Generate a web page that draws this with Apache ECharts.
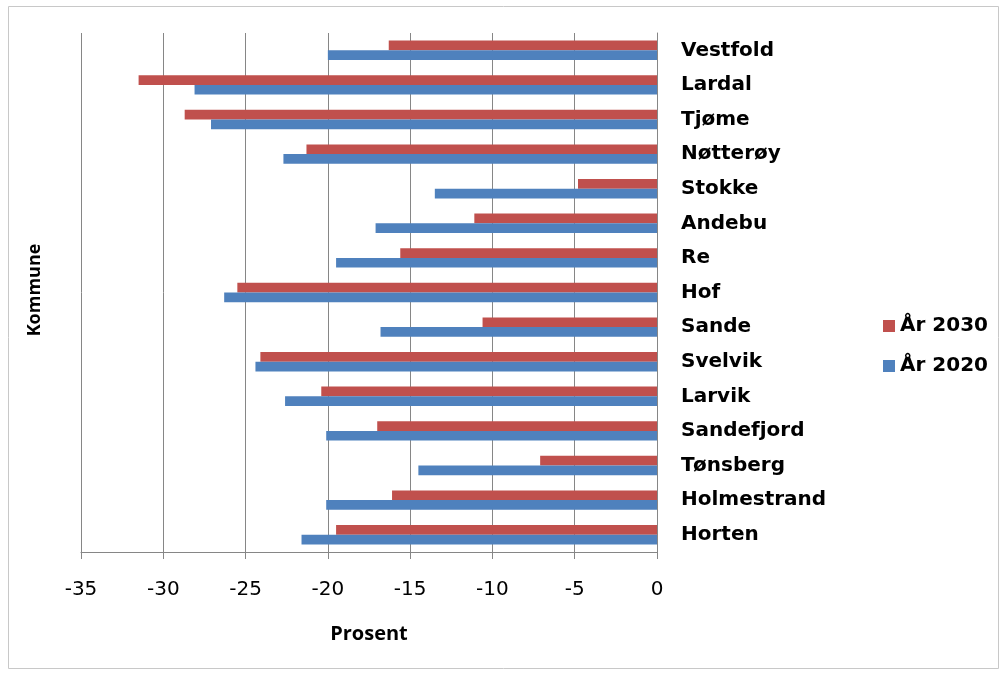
<!DOCTYPE html>
<html>
<head>
<meta charset="utf-8">
<script src="https://cdn.jsdelivr.net/npm/echarts@6/dist/echarts.min.js"></script>
<style>
  html, body { margin: 0; padding: 0; background: #fff; }
  #chart { width: 1005px; height: 675px; }
</style>
</head>
<body>
<div id="chart"></div>
<script>
// Kommuner, listed bottom to top
const categories = ['Horten', 'Holmestrand', 'Tønsberg', 'Sandefjord', 'Larvik', 'Svelvik', 'Sande', 'Hof', 'Re', 'Andebu', 'Stokke', 'Nøtterøy', 'Tjøme', 'Lardal', 'Vestfold'];
// Endring i prosent
const values2030 = [-19.5, -16.1, -7.1, -17.0, -20.4, -24.1, -10.6, -25.5, -15.6, -11.1, -4.8, -21.3, -28.7, -31.5, -16.3];
const values2020 = [-21.6, -20.1, -14.5, -20.1, -22.6, -24.4, -16.8, -26.3, -19.5, -17.1, -13.5, -22.7, -27.1, -28.1, -20.0];
const seriesNames = ['År 2030', 'År 2020'];
const xTicks = { min: -35, max: 0, interval: 5 };

const chart = echarts.init(document.getElementById('chart'), null, { renderer: 'canvas' });

chart.setOption({
  backgroundColor: '#ffffff',
  animation: false,
  grid: { left: 81, right: 348, top: 33, bottom: 123 },
  legend: {
    data: seriesNames,
    orient: 'vertical',
    left: 878,
    top: 311,
    itemWidth: 12,
    itemHeight: 12,
    itemGap: 20,
    icon: 'rect',
    textStyle: { fontFamily: 'DejaVu Sans', fontWeight: 'bold', fontSize: 20, color: '#000' }
  },
  xAxis: {
    type: 'value',
    min: xTicks.min,
    max: xTicks.max,
    interval: xTicks.interval,
    name: 'Prosent',
    nameLocation: 'middle',
    nameGap: 72,
    nameTextStyle: { fontFamily: 'Open Sans', fontWeight: 'bold', fontSize: 20, color: '#000' },
    axisLine: { show: true, lineStyle: { color: '#868686', width: 1 } },
    axisTick: { show: true, length: 7, lineStyle: { color: '#868686' } },
    axisLabel: { fontFamily: 'DejaVu Sans', fontSize: 20, color: '#000', margin: 28 },
    splitLine: { show: true, lineStyle: { color: '#868686', width: 1 } }
  },
  yAxis: {
    type: 'category',
    data: categories,
    position: 'right',
    axisLine: { show: true, lineStyle: { color: '#868686', width: 1 } },
    axisTick: { show: false },
    axisLabel: { fontFamily: 'DejaVu Sans', fontWeight: 'bold', fontSize: 20, color: '#000', margin: 24 },
    splitLine: { show: false }
  },
  series: [
    {
      name: seriesNames[0],
      type: 'bar',
      data: values2030,
      itemStyle: { color: '#C0504D' },
      barGap: '0%',
      barCategoryGap: '44%'
    },
    {
      name: seriesNames[1],
      type: 'bar',
      data: values2020,
      itemStyle: { color: '#4F81BD' },
      barGap: '0%',
      barCategoryGap: '44%'
    }
  ],
  graphic: [
    {
      type: 'rect',
      shape: { x: 8.5, y: 6.5, width: 990, height: 662 },
      style: { fill: 'none', stroke: '#c8c8c8', lineWidth: 1 },
      silent: true
    },
    {
      type: 'text',
      x: 35,
      y: 290,
      rotation: Math.PI / 2,
      style: {
        text: 'Kommune',
        fontFamily: 'Open Sans',
        fontWeight: 'bold',
        fontSize: 18,
        fill: '#000',
        textAlign: 'center',
        textVerticalAlign: 'middle'
      }
    }
  ]
});
</script>
</body>
</html>
